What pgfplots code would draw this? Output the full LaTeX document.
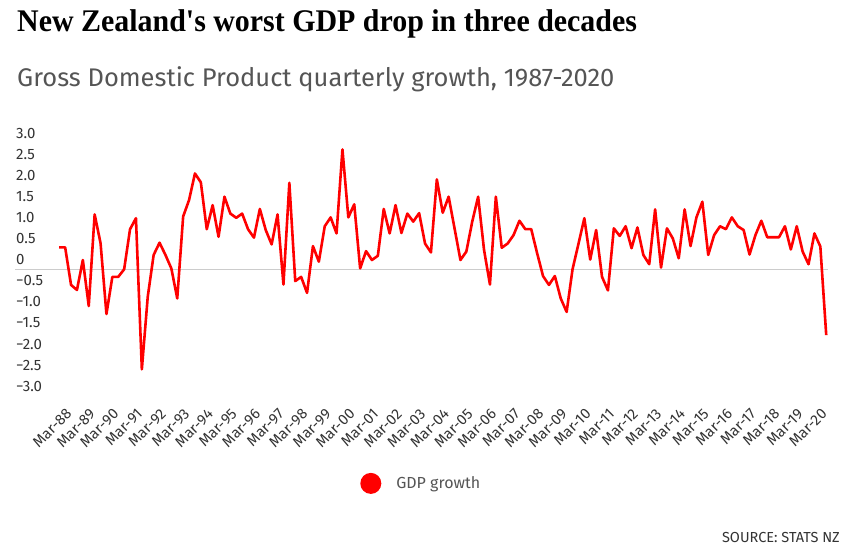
\documentclass[border=0pt]{standalone}
\usepackage{pgfplots}
\pgfplotsset{compat=1.18}
\usepackage{fontspec}
\setmainfont{Fira Sans}
\newfontfamily\titlefont[FakeStretch=0.95]{Liberation Serif}
\definecolor{gdpred}{HTML}{FF0000}
\definecolor{zerogray}{HTML}{CCCCCC}
\definecolor{labgray}{HTML}{333333}
\definecolor{subgray}{HTML}{555555}
\pgfplotstableread{
i v
0 0.53
1 0.53
2 -0.36
3 -0.48
4 0.23
5 -0.86
6 1.31
7 0.63
8 -1.05
9 -0.17
10 -0.17
11 0.01
12 0.96
13 1.22
14 -2.36
15 -0.64
16 0.35
17 0.64
18 0.35
19 0.03
20 -0.68
21 1.26
22 1.65
23 2.28
24 2.07
25 0.96
26 1.53
27 0.78
28 1.73
29 1.33
30 1.23
31 1.33
32 0.96
33 0.76
34 1.44
35 0.94
36 0.60
37 1.31
38 -0.35
39 2.06
40 -0.27
41 -0.17
42 -0.55
43 0.56
44 0.19
45 1.03
46 1.24
47 0.86
48 2.85
49 1.24
50 1.55
51 0.03
52 0.44
53 0.23
54 0.33
55 1.44
56 0.86
57 1.53
58 0.87
59 1.33
60 1.14
61 1.34
62 0.62
63 0.41
64 2.14
65 1.35
66 1.73
67 0.98
68 0.23
69 0.43
70 1.14
71 1.73
72 0.47
73 -0.35
74 1.73
75 0.52
76 0.62
77 0.82
78 1.16
79 0.96
80 0.96
81 0.39
82 -0.15
83 -0.36
84 -0.15
85 -0.68
86 -1.00
87 0.01
88 0.61
89 1.22
90 0.24
91 0.94
92 -0.17
93 -0.49
94 0.98
95 0.80
96 1.03
97 0.51
98 1.00
99 0.35
100 0.13
101 1.43
102 0.05
103 0.98
104 0.74
105 0.27
106 1.43
107 0.56
108 1.24
109 1.61
110 0.35
111 0.82
112 1.03
113 0.96
114 1.24
115 1.03
116 0.94
117 0.36
118 0.82
119 1.16
120 0.77
121 0.77
122 0.77
123 1.03
124 0.48
125 1.03
126 0.43
127 0.13
128 0.86
129 0.55
130 -1.55
}\gdpdata
\begin{document}
\begin{tikzpicture}
\useasboundingbox (0,0) rectangle (855bp,-553bp);
\node[anchor=base west, inner sep=0pt] at (17bp,-31bp) {\titlefont\bfseries\fontsize{31.5bp}{36bp}\selectfont New Zealand's worst GDP drop in three decades};
\node[anchor=base west, inner sep=0pt, text=subgray] at (17bp,-86bp) {\fontsize{25.5bp}{30bp}\selectfont Gross Domestic Product quarterly growth, 1987-2020};
\begin{axis}[
  at={(15bp,-396.3bp)}, anchor=south west,
  scale only axis, width=813bp, height=253.2bp,
  xmin=-7.5, xmax=130.3, ymin=-3, ymax=3,
  axis line style={draw=none},
  major tick length=0pt,
  tick style={draw=none},
  ytick={-3,-2.5,-2,-1.5,-1,-0.5,0,0.5,1,1.5,2,2.5,3},
  yticklabels={−3.0,−2.5,−2.0,−1.5,−1.0,−0.5,0,0.5,1.0,1.5,2.0,2.5,3.0},
  yticklabel style={anchor=west, inner sep=0pt, xshift=1bp, yshift=10bp, font=\fontsize{15bp}{18bp}\selectfont, text=labgray},
  xtick={2,6,...,130},
  xticklabels={Mar-88,Mar-89,Mar-90,Mar-91,Mar-92,Mar-93,Mar-94,Mar-95,Mar-96,Mar-97,Mar-98,Mar-99,Mar-00,Mar-01,Mar-02,Mar-03,Mar-04,Mar-05,Mar-06,Mar-07,Mar-08,Mar-09,Mar-10,Mar-11,Mar-12,Mar-13,Mar-14,Mar-15,Mar-16,Mar-17,Mar-18,Mar-19,Mar-20},
  xticklabel style={xshift=-2bp, yshift=-15bp, rotate=45, anchor=east, inner sep=0pt, font=\fontsize{15bp}{18bp}\selectfont, text=labgray},
  extra y ticks={0},
  extra y tick labels={},
  extra y tick style={grid=major, major grid style={zerogray, line width=1bp}},
  legend style={at={(0.4245,-0.344)}, anchor=west, draw=none, fill=none, inner sep=0pt, nodes={inner sep=0pt, font=\fontsize{16bp}{19bp}\selectfont, text=subgray}},
  legend image code/.code={\fill[gdpred, draw=none] (10.5bp,0bp) circle (10.5bp); \path[draw=none] (0bp,0bp) -- (36bp,0bp);},
]
\addplot[gdpred, line width=2.6bp, line join=round, mark=none] table[x=i, y=v] {\gdpdata};
\addlegendentry{GDP growth}
\end{axis}
\node[anchor=base east, inner sep=0pt, text=labgray] at (840bp,-542bp) {\fontsize{14.5bp}{17bp}\selectfont SOURCE: STATS NZ};
\end{tikzpicture}
\end{document}
